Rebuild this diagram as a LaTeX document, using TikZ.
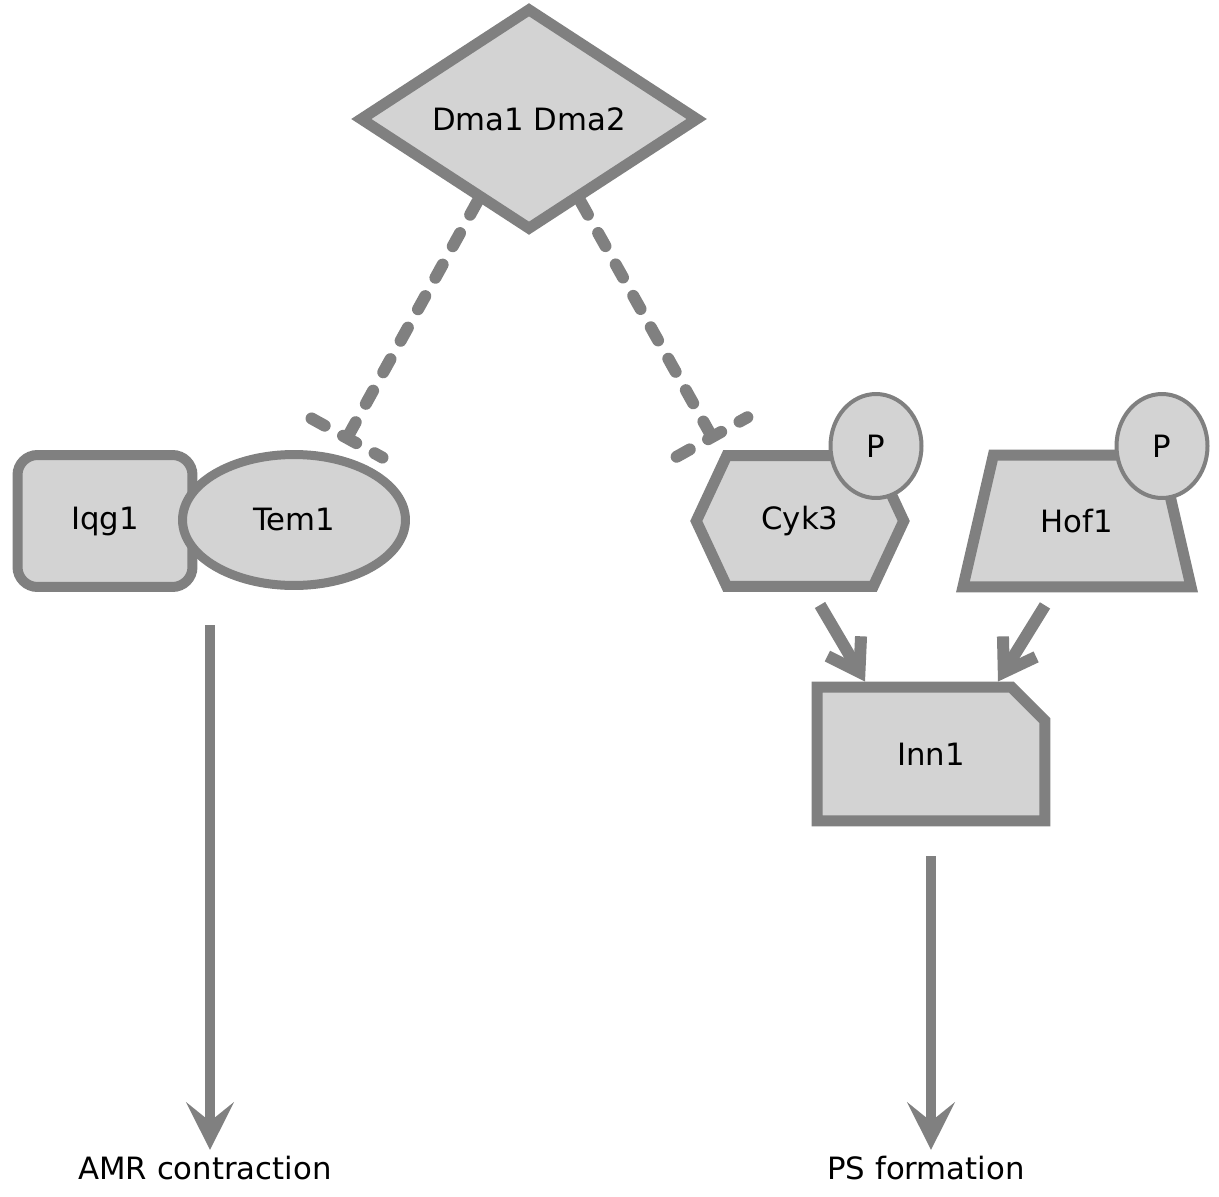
\documentclass[tikz,border=0pt]{standalone}
\usepackage{fontspec}
\setmainfont{DejaVu Sans}
\usetikzlibrary{arrows.meta,shapes.geometric,shapes.misc,shapes.symbols,calc}

\definecolor{edgegray}{RGB}{128,128,128}
\definecolor{fillgray}{RGB}{211,211,211}

\begin{document}
\begin{tikzpicture}[x=0.02cm,y=-0.02cm,every node/.style={font=\fontsize{17.5}{20}\selectfont},entity/.style={draw=edgegray, fill=fillgray, line width=0.22cm, inner sep=0pt},pstate/.style={ellipse, draw=edgegray, fill=fillgray, line width=0.08cm, inner sep=0pt, minimum width=1.82cm, minimum height=2.08cm},inhib/.style={draw=edgegray, line width=0.24cm, line cap=round, dash pattern=on 0.3cm off 0.42cm},act/.style={draw=edgegray, line width=0.24cm, -{Straight Barb[length=0.6cm, width=0.78cm]}},outflow/.style={draw=edgegray, line width=0.19cm, -{Stealth[length=0.95cm, width=0.95cm, inset=0.38cm]}},outcome/.style={font=\fontsize{17.5}{20}\selectfont}]
\useasboundingbox (0,0) rectangle (1219,1196);
% regulator
\node[entity, diamond, minimum width=6.8cm, minimum height=4.46cm] (dma) at (529,119) {Dma1 Dma2};
% complex on the left
\node[entity, rectangle, rounded corners=0.4cm, line width=0.2cm, minimum width=3.5cm, minimum height=2.64cm] (iqg) at (105,521) {Iqg1};
\node[entity, ellipse, line width=0.18cm, minimum width=4.46cm, minimum height=2.62cm] (tem) at (294,520) {Tem1};
% phosphorylated proteins on the right
\node[entity, signal, signal to=west and east, signal pointer angle=130, minimum width=4.15cm, minimum height=2.62cm] (cyk) at (800,521) {Cyk3};
\node[pstate] (cykp) at (876,446) {P};
\node[entity, trapezium, trapezium left angle=77, trapezium right angle=77, inner xsep=0.95cm, inner ysep=1.08cm] (hof) at (1077,521) {Hof1};
\node[pstate] (hofp) at (1162,446) {P};
\node[entity, chamfered rectangle, chamfered rectangle corners=north east, chamfered rectangle xsep=0.45cm, chamfered rectangle ysep=0.45cm, minimum width=4.56cm, minimum height=2.68cm] (inn) at (931,754) {Inn1};
% outcomes
\node[outcome] (amr) at (205,1168) {AMR contraction};
\node[outcome] (ps) at (926,1168) {PS formation};
\coordinate (cplx) at (210,625);
\coordinate (tembar) at (347,438);
\coordinate (cykbar) at (712,437);
% inhibitions
\draw[inhib] (dma.238) -- (tembar);
\draw[inhib] ($(tembar)!0.81cm!90:(dma.238)$) -- ($(tembar)!0.81cm!-90:(dma.238)$);
\draw[inhib] (dma.302) -- (cykbar);
\draw[inhib] ($(cykbar)!0.81cm!90:(dma.302)$) -- ($(cykbar)!0.81cm!-90:(dma.302)$);
% activations
\draw[act] ([xshift=0.4cm,yshift=-0.26cm]cyk.south) -- ([xshift=-1.32cm]inn.north);
\draw[act] ([xshift=-0.64cm,yshift=-0.26cm]hof.south) -- ([xshift=1.34cm]inn.north);
\draw[outflow] (cplx) -- (cplx |- amr.north);
\draw[outflow, shorten <=0.6cm] (inn.south) -- (inn.south |- ps.north);
\end{tikzpicture}
\end{document}
